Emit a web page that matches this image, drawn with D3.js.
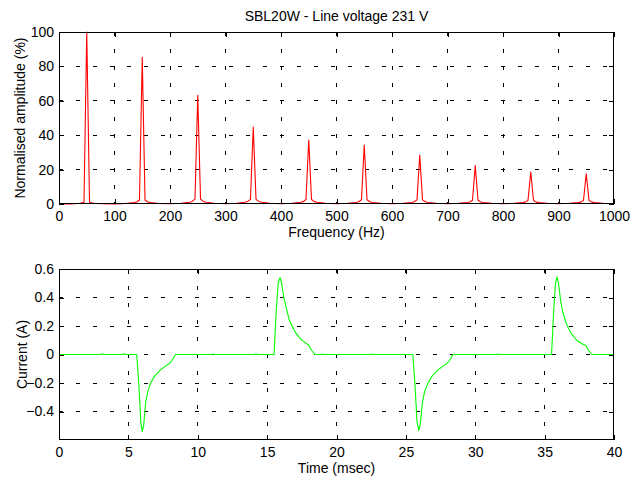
<!DOCTYPE html>
<html>
<head>
<meta charset="utf-8">
<script src="https://cdn.jsdelivr.net/npm/d3@7/dist/d3.min.js"></script>
<style>
  html, body { margin: 0; padding: 0; background: #ffffff; }
  svg { display: block; }
  text { font-family: "Liberation Sans", Arial, sans-serif; fill: #000; }
</style>
</head>
<body>
<svg id="chart" width="644" height="480"></svg>
<script>
// ---------- DATA ----------
const titleText = "SBL20W - Line voltage 231 V";

// Spectrum (top plot)
const freqHz = [
  0, 20, 35, 40, 45, 50, 55, 60, 65, 80, 100,
  120, 135, 140, 145, 150, 155, 160, 165, 180, 200,
  220, 235, 240, 245, 250, 255, 260, 265, 280, 300,
  320, 335, 340, 345, 350, 355, 360, 365, 380, 400,
  420, 435, 440, 445, 450, 455, 460, 465, 480, 500,
  520, 535, 540, 545, 550, 555, 560, 565, 580, 600,
  620, 635, 640, 645, 650, 655, 660, 665, 680, 700,
  720, 735, 740, 745, 750, 755, 760, 765, 780, 800,
  820, 835, 840, 845, 850, 855, 860, 865, 880, 900,
  920, 935, 940, 945, 950, 955, 960, 965, 980, 1000
];
const amplitudePct = [
  0.1, 0.1, 0.3, 0.5, 1.0, 100, 1.0, 0.5, 0.3, 0.2, 0.1,
  0.3, 0.8, 1.2, 2.3, 85.3, 2.3, 1.2, 0.8, 0.3, 0.2,
  0.4, 1.0, 1.5, 2.8, 63.2, 2.8, 1.5, 1.0, 0.4, 0.2,
  0.4, 1.0, 1.5, 2.7, 44.8, 2.7, 1.5, 1.0, 0.4, 0.2,
  0.4, 1.0, 1.4, 2.6, 37.2, 2.6, 1.4, 1.0, 0.4, 0.2,
  0.4, 0.9, 1.3, 2.5, 34.3, 2.5, 1.3, 0.9, 0.4, 0.2,
  0.4, 0.9, 1.3, 2.4, 28.5, 2.4, 1.3, 0.9, 0.4, 0.2,
  0.4, 0.9, 1.2, 2.2, 22.3, 2.2, 1.2, 0.9, 0.4, 0.2,
  0.4, 0.8, 1.1, 2.0, 18.6, 2.0, 1.1, 0.8, 0.4, 0.2,
  0.4, 0.8, 1.1, 2.0, 17.6, 2.0, 1.1, 0.8, 0.4, 0.2
];
const freqTicks = [0, 100, 200, 300, 400, 500, 600, 700, 800, 900, 1000];
const ampTicks = [0, 20, 40, 60, 80, 100];

// Current waveform (bottom plot)
const timeMs = [
  0, 1.5, 3.0, 3.1, 3.2, 4.6, 4.7, 4.8, 5.5, 5.6, 5.75, 5.9, 6.0, 6.1, 6.25, 6.4, 6.6, 6.9, 7.3, 7.7, 8.0, 8.15, 8.4,
  9.5, 11.0, 11.1, 11.2, 14.1, 14.2, 14.3, 15.5, 15.65, 15.8, 15.93, 16.05, 16.2, 16.35, 16.6, 17.0, 17.4, 17.8, 18.0, 18.2, 18.45,
  18.9, 19.0, 19.1, 20.5, 22.5, 22.6, 22.7, 24.0, 25.5, 25.65, 25.8, 25.93, 26.05, 26.2, 26.35, 26.6, 26.9, 27.3, 27.7, 28.0, 28.15, 28.4,
  30.0, 31.5, 31.6, 31.7, 34.0, 35.5, 35.65, 35.78, 35.9, 36.0, 36.15, 36.3, 36.55, 36.9, 37.3, 37.7, 38.0, 38.15, 38.4, 40.0
];
const currentA = [
  0, 0, 0, 0.005, 0, 0, 0.005, 0, 0, 0, -0.2, -0.48, -0.54, -0.5, -0.33, -0.26, -0.2, -0.15, -0.11, -0.08, -0.06, -0.04, 0,
  0, 0, 0.004, 0, 0, 0.005, 0, 0, 0.3, 0.5, 0.54, 0.5, 0.4, 0.34, 0.24, 0.16, 0.11, 0.08, 0.065, 0.03, 0,
  0, 0.004, 0, 0, 0, 0.004, 0, 0, 0, -0.2, -0.47, -0.535, -0.48, -0.33, -0.26, -0.2, -0.15, -0.11, -0.08, -0.06, -0.04, 0,
  0, 0, 0.004, 0, 0, 0, 0.3, 0.5, 0.544, 0.5, 0.38, 0.3, 0.22, 0.15, 0.1, 0.075, 0.06, 0.03, 0, 0
];
const timeTicks = [0, 5, 10, 15, 20, 25, 30, 35, 40];
const currentTicks = [-0.4, -0.2, 0, 0.2, 0.4, 0.6];

// ---------- DRAWING ----------
const svg = d3.select("#chart");
const FONT = 14;

function drawPanel(opts) {
  const { left, right, top, bottom, xDomain, yDomain, xTicks, yTicks, xFmt, yFmt,
          xs, ys, color, xLabel, yLabel, yLabelX } = opts;
  const x = d3.scaleLinear().domain(xDomain).range([left, right]);
  const y = d3.scaleLinear().domain(yDomain).range([bottom, top]);
  const g = svg.append("g");

  g.append("rect").attr("x", left).attr("y", top)
    .attr("width", right - left).attr("height", bottom - top).attr("fill", "#fff");

  // grid (dotted MATLAB style)
  const gx = g.append("g");
  xTicks.filter(v => v > xDomain[0] && v < xDomain[1]).forEach(v => {
    gx.append("line").attr("x1", x(v)).attr("x2", x(v)).attr("y1", top).attr("y2", bottom)
      .attr("stroke", "#000").attr("stroke-width", 1).attr("stroke-dasharray", "4,13")
      .attr("shape-rendering", "crispEdges");
  });
  yTicks.filter(v => v > yDomain[0] && v < yDomain[1]).forEach(v => {
    gx.append("line").attr("x1", left).attr("x2", right).attr("y1", y(v)).attr("y2", y(v))
      .attr("stroke", "#000").attr("stroke-width", 1).attr("stroke-dasharray", "4,13")
      .attr("shape-rendering", "crispEdges");
  });

  // data line
  const pts = xs.map((v, i) => [v, ys[i]]);
  g.append("path").datum(pts)
    .attr("fill", "none").attr("stroke", color).attr("stroke-width", 1.1)
    .attr("stroke-linejoin", "round")
    .attr("d", d3.line().x(d => x(d[0])).y(d => y(d[1])));

  // axes with inward ticks on all four sides
  const axB = g.append("g").attr("transform", `translate(0,${bottom})`)
    .call(d3.axisBottom(x).tickValues(xTicks).tickFormat(xFmt).tickSize(-5).tickPadding(7));
  const axT = g.append("g").attr("transform", `translate(0,${top})`)
    .call(d3.axisTop(x).tickValues(xTicks).tickFormat("").tickSize(-5));
  const axL = g.append("g").attr("transform", `translate(${left},0)`)
    .call(d3.axisLeft(y).tickValues(yTicks).tickFormat(yFmt).tickSize(-5).tickPadding(5));
  const axR = g.append("g").attr("transform", `translate(${right},0)`)
    .call(d3.axisRight(y).tickValues(yTicks).tickFormat("").tickSize(-5));
  [axB, axT, axL, axR].forEach(a => {
    a.selectAll(".domain").remove();
    a.selectAll("line").attr("stroke", "#000").attr("shape-rendering", "crispEdges");
    a.selectAll("text").attr("font-size", FONT).attr("font-family", "Liberation Sans, Arial, sans-serif").attr("fill", "#000");
  });

  // frame
  g.append("rect").attr("x", left + 0.5).attr("y", top + 0.5)
    .attr("width", right - left - 1).attr("height", bottom - top - 1)
    .attr("fill", "none").attr("stroke", "#000").attr("stroke-width", 1.5)
    .attr("shape-rendering", "crispEdges");

  // labels
  g.append("text").attr("x", (left + right) / 2).attr("y", bottom + 33)
    .attr("text-anchor", "middle").attr("font-size", FONT).text(xLabel);
  g.append("text")
    .attr("transform", `translate(${yLabelX},${(top + bottom) / 2}) rotate(-90)`)
    .attr("text-anchor", "middle").attr("font-size", FONT).text(yLabel);
}

const L = 59, R = 614;

svg.append("text").attr("x", (L + R) / 2).attr("y", 21)
  .attr("text-anchor", "middle").attr("font-size", FONT).text(titleText);

drawPanel({
  left: L, right: R, top: 32, bottom: 204,
  xDomain: [0, 1000], yDomain: [0, 100],
  xTicks: freqTicks, yTicks: ampTicks,
  xFmt: d3.format("d"), yFmt: d3.format("d"),
  xs: freqHz, ys: amplitudePct, color: "#ff0000",
  xLabel: "Frequency (Hz)", yLabel: "Normalised amplitude (%)", yLabelX: 25
});

drawPanel({
  left: L, right: R, top: 269, bottom: 440,
  xDomain: [0, 40], yDomain: [-0.6, 0.6],
  xTicks: timeTicks, yTicks: currentTicks,
  xFmt: d3.format("d"), yFmt: v => (v === 0 ? "0" : d3.format(".1f")(v)),
  xs: timeMs, ys: currentA, color: "#00ff00",
  xLabel: "Time (msec)", yLabel: "Current (A)", yLabelX: 27
});
</script>
</body>
</html>
